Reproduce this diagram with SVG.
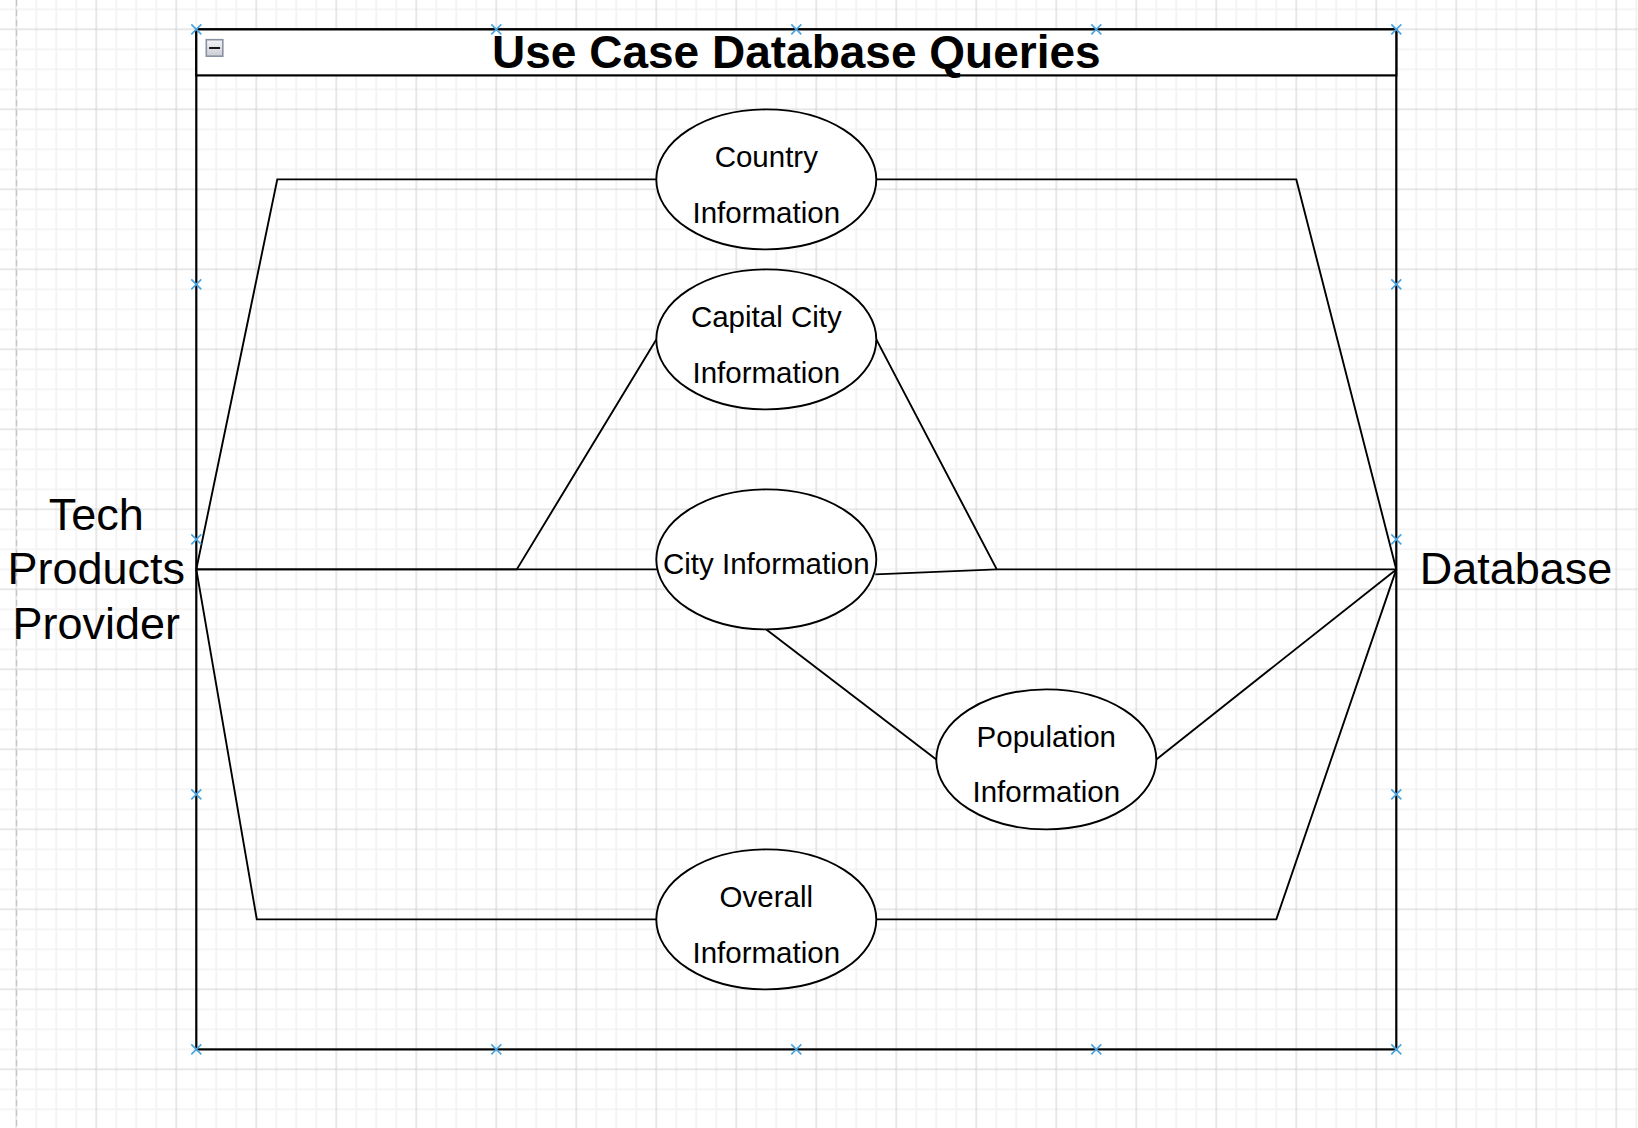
<svg xmlns="http://www.w3.org/2000/svg" width="1638" height="1128" viewBox="0 0 1638 1128">
<defs>
  <pattern id="grid" patternUnits="userSpaceOnUse" x="6.3" y="19.3" width="80" height="80">
    <path d="M30 0V80M50 0V80M70 0V80M0 30H80M0 50H80M0 70H80" stroke="#f2f2f2" stroke-width="1.6" fill="none"/>
    <path d="M10 0V80M0 10H80" stroke="#d0d0d0" stroke-width="1" fill="none"/>
  </pattern>
  <linearGradient id="btn" x1="0" y1="0" x2="0" y2="1">
    <stop offset="0" stop-color="#f4f5f7"/>
    <stop offset="1" stop-color="#c9ccd3"/>
  </linearGradient>
  <path id="hx" d="M-5 -5L5 5M-5 5L5 -5"/>
</defs>
<style>
  .t{font-family:"Liberation Sans",Arial,Helvetica,sans-serif;fill:#000;text-anchor:middle}
  .uc{font-size:29.5px}
  .actor{font-size:45px}
  .title{font-size:46px;font-weight:bold}
  .node ellipse{fill:#fff;stroke:#000;stroke-width:1.9}
  .conn path{fill:none;stroke:#000;stroke-width:1.9;stroke-linejoin:miter}
  .handle use{stroke:#4aa3df;stroke-width:1.6;fill:none}
</style>
<rect width="1638" height="1128" fill="#fff"/>
<rect width="1638" height="1128" fill="url(#grid)"/>
<line x1="16.5" y1="0" x2="16.5" y2="1128" stroke="#c4c4c4" stroke-width="1.2" stroke-dasharray="6 4"/>
<g transform="translate(16.3 29.4)">
  <g id="container">
    <rect x="180" y="0" width="1200" height="1020" fill="none" stroke="#000" stroke-width="2.2"/>
    <rect x="180" y="0" width="1200" height="46" fill="#fff" stroke="#000" stroke-width="2.2"/>
    <rect x="190" y="10.3" width="16.5" height="16.5" fill="url(#btn)" stroke="#8b92a2" stroke-width="1.6"/>
    <line x1="192.8" y1="18.6" x2="203.8" y2="18.6" stroke="#000" stroke-width="1.8"/>
    <text class="t title" x="780" y="38.9">Use Case Database Queries</text>
  </g>
  <g id="connectors" class="conn">
    <path d="M180 540L261 150L640 150"/>
    <path d="M860 150L1280 150L1380 540"/>
    <path d="M180 540L500.5 540L640 310"/>
    <path d="M860 310L980.5 540L1380 540"/>
    <path d="M180 540L641 540"/>
    <path d="M859 545L980.5 540"/>
    <path d="M750 600L920 730"/>
    <path d="M1140 730L1380 540"/>
    <path d="M180 540L240.5 890L640 890"/>
    <path d="M860 890L1260 890L1380 540"/>
  </g>
  <g id="actor-provider">
    <text class="t actor" x="80" y="500.6">Tech</text>
    <text class="t actor" x="80" y="555">Products</text>
    <text class="t actor" x="80" y="609.8">Provider</text>
  </g>
  <g id="actor-database">
    <text class="t actor" x="1499.7" y="554.6">Database</text>
  </g>
  <g id="uc-country" class="node">
    <ellipse cx="750" cy="150" rx="110" ry="70"/>
    <text class="t uc" x="750" y="137.3">Country</text>
    <text class="t uc" x="750" y="193.3">Information</text>
  </g>
  <g id="uc-capital" class="node">
    <ellipse cx="750" cy="310" rx="110" ry="70"/>
    <text class="t uc" x="750" y="297.3">Capital City</text>
    <text class="t uc" x="750" y="353.3">Information</text>
  </g>
  <g id="uc-city" class="node">
    <ellipse cx="750" cy="530" rx="110" ry="70"/>
    <text class="t uc" x="750" y="544.9">City Information</text>
  </g>
  <g id="uc-population" class="node">
    <ellipse cx="1030" cy="730" rx="110" ry="70"/>
    <text class="t uc" x="1030" y="717.3">Population</text>
    <text class="t uc" x="1030" y="772.3">Information</text>
  </g>
  <g id="uc-overall" class="node">
    <ellipse cx="750" cy="890" rx="110" ry="70"/>
    <text class="t uc" x="750" y="877.3">Overall</text>
    <text class="t uc" x="750" y="933.3">Information</text>
  </g>
  <g id="handles" class="handle">
    <use href="#hx" x="180" y="0"/><use href="#hx" x="480" y="0"/><use href="#hx" x="780" y="0"/><use href="#hx" x="1080" y="0"/><use href="#hx" x="1380" y="0"/>
    <use href="#hx" x="180" y="1020"/><use href="#hx" x="480" y="1020"/><use href="#hx" x="780" y="1020"/><use href="#hx" x="1080" y="1020"/><use href="#hx" x="1380" y="1020"/>
    <use href="#hx" x="180" y="255"/><use href="#hx" x="180" y="510"/><use href="#hx" x="180" y="765"/>
    <use href="#hx" x="1380" y="255"/><use href="#hx" x="1380" y="510"/><use href="#hx" x="1380" y="765"/>
  </g>
</g>
</svg>
